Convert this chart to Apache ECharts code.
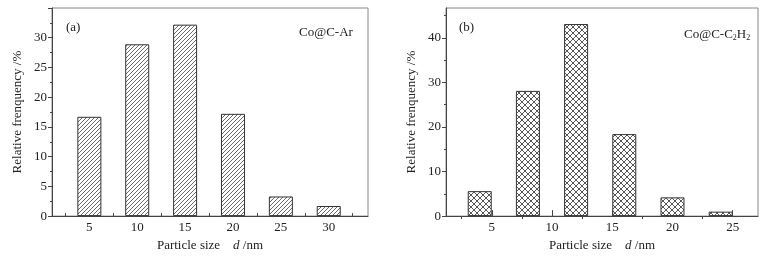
<!DOCTYPE html>
<html>
<head>
<meta charset="utf-8">
<style>
  html, body { margin: 0; padding: 0; background: #fff; }
  #chart { width: 773px; height: 257px; }
</style>
<script src="https://cdn.jsdelivr.net/npm/echarts@6/dist/echarts.min.js"></script>
</head>
<body>
<div id="chart"></div>
<script>
// panel (a) Co@C-Ar
const sizesA = [5, 10, 15, 20, 25, 30];
const freqA = [16.7, 28.9, 32.2, 17.2, 3.3, 1.7];
const xLabelsA = [5, 10, 15, 20, 25, 30];
const xTicksA = [2.5, 7.5, 12.5, 17.5, 22.5, 27.5, 32.5];

// panel (b) Co@C-C2H2
const sizesB = [4, 8, 12, 16, 20, 24];
const freqB = [5.6, 28.1, 43.1, 18.4, 4.2, 1.0];
const xLabelsB = [5, 10, 15, 20, 25];
const xMinorB = [2.5, 7.5, 12.5, 17.5, 22.5];
const yLabelsB = [0, 10, 20, 30, 40];
const yMinorB = [5, 15, 25, 35, 45];

const FONT = '"Liberation Serif", "DejaVu Serif", serif';
const INK = '#222';

function tile(size, draw) {
  const c = document.createElement('canvas');
  c.width = c.height = size;
  const ctx = c.getContext('2d');
  ctx.fillStyle = '#fff';
  ctx.fillRect(0, 0, size, size);
  draw(ctx, size);
  return c;
}

// "/" hatch
const diag = tile(4, (ctx, s) => {
  ctx.strokeStyle = '#6a6a6a';
  ctx.lineWidth = 1;
  ctx.beginPath();
  ctx.moveTo(-1, s + 1); ctx.lineTo(s + 1, -1);
  ctx.moveTo(-1, 1); ctx.lineTo(1, -1);
  ctx.moveTo(s - 1, s + 1); ctx.lineTo(s + 1, s - 1);
  ctx.stroke();
});

// cross hatch
const cross = tile(6, (ctx, s) => {
  ctx.strokeStyle = '#444';
  ctx.lineWidth = 0.9;
  ctx.beginPath();
  ctx.moveTo(-1, s + 1); ctx.lineTo(s + 1, -1);
  ctx.moveTo(-1, -1); ctx.lineTo(s + 1, s + 1);
  ctx.stroke();
});

const label = { fontFamily: FONT, fontSize: 13, color: INK };
const nameStyle = {
  fontFamily: FONT, fontSize: 13, color: INK,
  rich: { i: { fontFamily: FONT, fontSize: 13, fontStyle: 'italic', color: INK } }
};
const axisLine = { show: true, lineStyle: { color: '#444', width: 1 } };

let myChart = echarts.init(document.getElementById('chart'));
myChart.setOption({
  animation: false,
  grid: [
    { left: 52, right: 405, top: 8, bottom: 40, show: true, borderColor: '#888', borderWidth: 1 },
    { left: 446, right: 15, top: 8, bottom: 40, show: true, borderColor: '#888', borderWidth: 1 }
  ],
  xAxis: [
    {
      gridIndex: 0, type: 'value', min: 1.1, max: 34.1,
      name: 'Particle size    {i|d} /nm', nameLocation: 'middle', nameGap: 20,
      nameTextStyle: nameStyle,
      axisLine: axisLine,
      axisTick: { show: true, inside: true, length: 3, customValues: xTicksA, lineStyle: { color: '#444' } },
      axisLabel: { ...label, margin: 5, customValues: xLabelsA },
      splitLine: { show: false }
    },
    {
      gridIndex: 1, type: 'value', min: 1.2, max: 27.1,
      name: 'Particle size    {i|d} /nm', nameLocation: 'middle', nameGap: 20,
      nameTextStyle: nameStyle,
      axisLine: axisLine,
      axisTick: { show: true, inside: true, length: 6, customValues: xLabelsB, lineStyle: { color: '#444' } },
      axisLabel: { ...label, margin: 5, customValues: xLabelsB },
      splitLine: { show: false }
    },
    {
      gridIndex: 1, type: 'value', min: 1.2, max: 27.1,
      axisLine: { show: false },
      axisTick: { show: true, inside: true, length: 3, customValues: xMinorB, lineStyle: { color: '#444' } },
      axisLabel: { show: false },
      splitLine: { show: false }
    }
  ],
  yAxis: [
    {
      gridIndex: 0, type: 'value', min: 0, max: 35, interval: 5,
      name: 'Relative frenquency /%', nameLocation: 'middle', nameGap: 28,
      nameTextStyle: nameStyle,
      axisLine: axisLine,
      axisTick: { show: true, length: 4, lineStyle: { color: '#444' } },
      minorTick: { show: true, splitNumber: 2, length: 2, lineStyle: { color: '#444' } },
      axisLabel: { ...label, margin: 5, showMaxLabel: false },
      splitLine: { show: false }
    },
    {
      gridIndex: 1, type: 'value', min: 0, max: 46.7,
      name: 'Relative frenquency /%', nameLocation: 'middle', nameGap: 28,
      nameTextStyle: nameStyle,
      axisLine: axisLine,
      axisTick: { show: true, length: 4, customValues: yLabelsB, lineStyle: { color: '#444' } },
      axisLabel: { ...label, margin: 5, customValues: yLabelsB },
      splitLine: { show: false }
    },
    {
      gridIndex: 1, type: 'value', min: 0, max: 46.7, position: 'left',
      axisLine: { show: false },
      axisTick: { show: true, length: 2, customValues: yMinorB, lineStyle: { color: '#444' } },
      axisLabel: { show: false },
      splitLine: { show: false }
    }
  ],
  graphic: [
    { type: 'text', left: 66, top: 21, style: { text: '(a)', font: '13px ' + FONT, fill: INK } },
    { type: 'text', left: 459, top: 21, style: { text: '(b)', font: '13px ' + FONT, fill: INK } },
    { type: 'text', left: 299, top: 26, style: { text: 'Co@C-Ar', font: '13px ' + FONT, fill: INK } },
    {
      type: 'text', left: 684, top: 26,
      style: {
        text: '{n|Co@C-C}{s|2}{n|H}{s|2}', fill: INK,
        rich: {
          n: { fontFamily: FONT, fontSize: 13, lineHeight: 14, verticalAlign: 'top', fill: INK },
          s: { fontFamily: FONT, fontSize: 8, lineHeight: 8, verticalAlign: 'bottom', padding: [8, 0, 0, 0], fill: INK }
        }
      }
    }
  ],
  series: [
    {
      type: 'bar', xAxisIndex: 0, yAxisIndex: 0, barWidth: 24,
      data: sizesA.map((s, i) => [s, freqA[i]]),
      itemStyle: { color: { image: diag, repeat: 'repeat' }, borderColor: '#333', borderWidth: 1 }
    },
    {
      type: 'bar', xAxisIndex: 1, yAxisIndex: 1, barWidth: 24,
      data: sizesB.map((s, i) => [s, freqB[i]]),
      itemStyle: { color: { image: cross, repeat: 'repeat' }, borderColor: '#333', borderWidth: 1 }
    }
  ]
});
</script>
</body>
</html>
